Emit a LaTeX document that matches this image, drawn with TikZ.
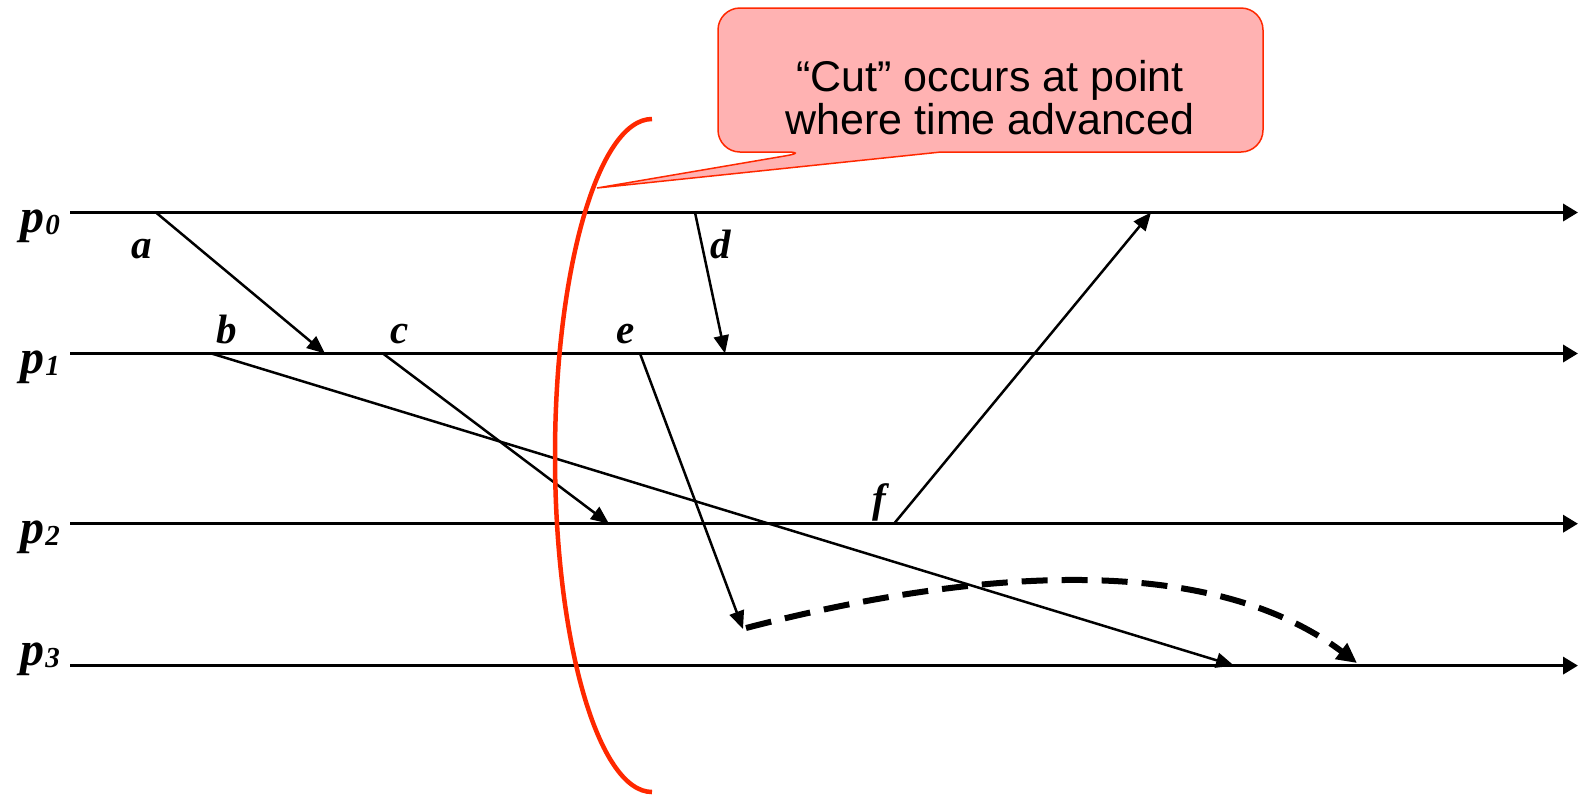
\documentclass[tikz,border=0pt]{standalone}
\usepackage{fontspec}
\setmainfont{Liberation Sans}
\newfontfamily\tnr{Liberation Serif}
\usetikzlibrary{arrows.meta}
\definecolor{cutred}{RGB}{255,40,0}
\definecolor{notepink}{RGB}{255,178,178}
\tikzset{
  proc/.style={line width=3.5pt, -{Triangle[length=15pt,width=17pt]}},
  msg/.style={line width=2.5pt, -{Triangle[length=18pt,width=15pt]}},
  evt/.style={font=\tnr\bfseries\itshape\fontsize{41}{41}\selectfont, anchor=base, inner sep=0pt},
  pname/.style={font=\tnr\bfseries\itshape\fontsize{48}{48}\selectfont, anchor=base east, inner sep=0pt},
  cut/.style={cutred, line width=4.5pt},
  note/.style={draw=cutred, fill=notepink, line width=1.5pt},
  notetext/.style={font=\fontsize{43}{43}\selectfont, align=center, inner sep=0pt},
}
\newcommand{\pidx}[1]{p\kern1pt\raisebox{-2pt}{\fontsize{29}{29}\selectfont #1}}

\begin{document}
\begin{tikzpicture}[x=1pt,y=-1pt]
  \useasboundingbox (0,0) rectangle (1579,796);

  %% Processes
  \foreach \i/\y/\b in {0/212.5/232,1/353.5/373,2/523.7/543,3/665.6/665} {
    \coordinate (s\i) at (70,\y);
    \coordinate (t\i) at (1578,\y);
    \draw[proc] (s\i) -- (t\i);
    \node[pname] (lbl\i) at (60,\b) {\pidx{\i}};
  }

  %% Events
  \coordinate (a) at (156,212.5);
  \coordinate (b) at (211.5,353.5);
  \coordinate (c) at (383,353.5);
  \coordinate (d) at (695,212.5);
  \coordinate (e) at (640,353.5);
  \coordinate (f) at (894,523.7);

  \node[evt] (la) at (142,258) {a};
  \node[evt] (lb) at (227,343) {b};
  \node[evt] (lc) at (400,343) {c};
  \node[evt] (ld) at (721,258) {d};
  \node[evt] (le) at (626,343) {e};
  \node[evt] (lf) at (879,512) {f};

  %% Receive points
  \coordinate (ra) at (325,353.5);
  \coordinate (rb) at (1234,665.6);
  \coordinate (rc) at (609,523.7);
  \coordinate (rd) at (725,353.5);
  \coordinate (re) at (743,629);
  \coordinate (rf) at (1151,212.5);
  \coordinate (rx) at (1357,663);

  %% Messages
  \draw[msg] (a) -- (ra);
  \draw[msg] (b) -- (rb);
  \draw[msg] (c) -- (rc);
  \draw[msg] (d) -- (rd);
  \draw[msg] (e) -- (re);
  \draw[msg] (f) -- (rf);

  %% Dashed message
  \draw[line width=6pt, dash pattern=on 26pt off 14pt, -{Triangle[length=20pt,width=19pt]}]
    (re) ++(3,-1) .. controls (950,575) and (1200,545) .. (rx);

  %% The cut
  \draw[cut] (652,119) arc[start angle=270, end angle=90, x radius=97, y radius=336.5];

  %% Callout
  \draw[note] (597,188) -- (941,152) [rounded corners=22pt] -- (1263,152) -- (1263,8)
    -- (718,8) -- (718,152) -- (808,152) [sharp corners] -- cycle;
  \node[notetext] (cutnote) at (990,98) {“Cut” occurs at point\\where time advanced};
\end{tikzpicture}
\end{document}
